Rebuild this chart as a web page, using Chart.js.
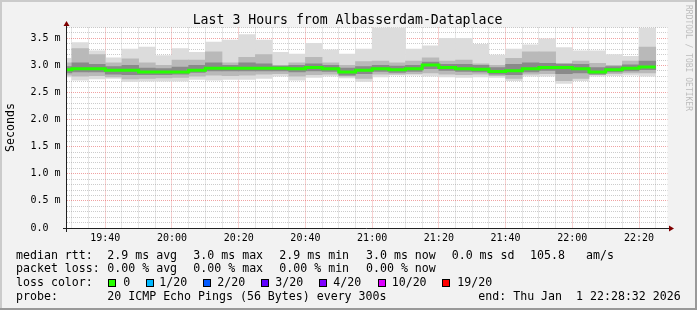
<!DOCTYPE html>
<html>
<head>
<meta charset="utf-8">
<title>Last 3 Hours from Albasserdam-Dataplace</title>
<script src="https://cdn.jsdelivr.net/npm/chart.js@4/dist/chart.umd.min.js"></script>
<style>
  html, body { margin: 0; padding: 0; background: #f2f2f2; }
  canvas { display: block; }
</style>
</head>
<body>
<canvas id="mainGraph" width="697" height="310"></canvas>
<script>
// start of every 5 minute step (300s)
var slotTimes = ['19:25','19:30','19:35','19:40','19:45','19:50','19:55',
  '20:00','20:05','20:10','20:15','20:20','20:25','20:30','20:35','20:40','20:45','20:50','20:55',
  '21:00','21:05','21:10','21:15','21:20','21:25','21:30','21:35','21:40','21:45','21:50','21:55',
  '22:00','22:05','22:10','22:15','22:20'];

// values in ms
var medianRtt   = [2.92,2.94,2.94,2.91,2.91,2.88,2.88,2.88,2.91,2.95,2.95,2.95,2.95,2.95,2.94,2.96,2.94,2.88,
                   2.91,2.94,2.92,2.94,3.01,2.96,2.94,2.93,2.89,2.90,2.94,2.96,2.96,2.94,2.88,2.92,2.95,2.97];
var smokeMax    = [3.13,3.42,3.27,3.14,3.30,3.34,3.18,3.31,3.24,3.43,3.47,3.57,3.47,3.24,3.21,3.41,3.29,3.21,
                   3.30,3.70,3.70,3.30,3.36,3.50,3.50,3.39,3.19,3.30,3.38,3.49,3.33,3.27,3.27,3.20,3.17,3.69];
var smokeHi     = [3.05,3.31,3.20,3.05,3.12,3.05,3.00,3.10,3.10,3.25,3.05,3.15,3.20,3.00,3.05,3.15,3.05,3.00,
                   3.07,3.08,3.05,3.08,3.14,3.08,3.10,3.03,3.00,3.13,3.25,3.25,3.00,3.08,3.04,3.00,3.08,3.34];
var smokeDarkHi = [2.98,3.05,3.02,2.98,3.00,2.95,2.94,2.97,3.00,3.05,3.00,3.05,3.03,2.99,3.00,3.03,3.00,2.95,
                   2.98,3.00,2.99,3.00,3.06,3.02,3.02,3.00,2.96,3.02,3.05,3.04,3.03,3.02,2.96,2.98,3.01,3.08];
var smokeDarkLo = [2.86,2.88,2.88,2.84,2.83,2.83,2.83,2.84,2.87,2.90,2.90,2.90,2.90,2.90,2.88,2.90,2.89,2.82,
                   2.85,2.89,2.87,2.89,2.94,2.91,2.89,2.88,2.84,2.83,2.88,2.91,2.85,2.86,2.84,2.88,2.90,2.92];
var smokeLo     = [2.82,2.80,2.81,2.79,2.75,2.76,2.77,2.78,2.80,2.82,2.81,2.82,2.84,2.85,2.80,2.83,2.84,2.80,
                   2.76,2.84,2.84,2.85,2.86,2.84,2.83,2.84,2.81,2.76,2.84,2.85,2.72,2.76,2.83,2.85,2.86,2.86];
var smokeMin    = [2.79,2.73,2.75,2.76,2.70,2.71,2.71,2.71,2.74,2.73,2.74,2.74,2.76,2.80,2.73,2.78,2.80,2.77,
                   2.70,2.79,2.82,2.82,2.80,2.79,2.78,2.79,2.78,2.72,2.80,2.80,2.67,2.72,2.80,2.81,2.82,2.80];

var rangeStart = '19:28:32';
var rangeEnd = '22:28:32';
var stepMinutes = 5;

var legendRows = [
  [[16,'median rtt:'],[107.3,'2.9 ms avg'],[193.3,'3.0 ms max'],[279.3,'2.9 ms min'],[366,'3.0 ms now'],[451.7,'0.0 ms sd'],[530,'105.8'],[586,'am/s']],
  [[16,'packet loss:'],[107.3,'0.00 % avg'],[193.3,'0.00 % max'],[279.3,'0.00 % min'],[366,'0.00 % now']],
  [[16,'loss color:']],
  [[16,'probe:'],[107.3,'20 ICMP Echo Pings (56 Bytes) every 300s'],[478.3,'end: Thu Jan  1 22:28:32 2026']]
];
var lossLabels = ['0','1/20','2/20','3/20','4/20','10/20','19/20'];
var lossColors = ['#26ff00','#00b8ff','#0059ff','#5e00ff','#7e00ff','#dd00ff','#ff0000'];

// minutes since 19:00
function toMin(t) {
  var p = t.split(':');
  var m = (parseInt(p[0]) - 19) * 60 + parseInt(p[1]);
  if (p.length > 2) m += parseInt(p[2]) / 60;
  return m;
}
function fmt(v) {
  var h = 19 + Math.floor(v / 60);
  var m = v % 60;
  return h + ':' + (m < 10 ? '0' : '') + m;
}

function band(lo, hi) {
  var out = [];
  for (var i = 0; i < slotTimes.length; i++) {
    out.push({x: toMin(slotTimes[i]) + stepMinutes / 2, y: [lo[i], hi[i]]});
  }
  return out;
}
var medianPts = [];
for (var i = 0; i < slotTimes.length; i++) {
  var s = toMin(slotTimes[i]);
  medianPts.push({x: s, y: medianRtt[i]});
  medianPts.push({x: s + stepMinutes, y: medianRtt[i]});
}

var MONO = '"DejaVu Sans Mono", "Liberation Mono", monospace';

var rrdPlugin = {
  id: 'rrd',
  beforeDraw: function (chart) {
    var c = chart.ctx, a = chart.chartArea;
    c.save();
    c.fillStyle = '#f2f2f2';
    c.fillRect(0, 0, chart.width, chart.height);
    c.fillStyle = '#cbcbcb';
    c.fillRect(0, 0, chart.width, 2);
    c.fillRect(0, 0, 2, chart.height);
    c.fillStyle = '#999999';
    c.fillRect(0, chart.height - 2, chart.width, 2);
    c.fillRect(chart.width - 2, 0, 2, chart.height);
    c.fillStyle = '#ffffff';
    c.fillRect(a.left, a.top, a.right - a.left, a.bottom - a.top);
    c.restore();
  },
  afterDatasetsDraw: function (chart) {
    var c = chart.ctx, a = chart.chartArea;
    c.save();
    c.strokeStyle = '#202020';
    c.lineWidth = 1;
    c.beginPath();
    c.moveTo(63, a.bottom + 0.5);
    c.lineTo(670, a.bottom + 0.5);
    c.moveTo(a.left - 0.5, a.bottom + 4);
    c.lineTo(a.left - 0.5, 24);
    c.stroke();
    c.fillStyle = '#7f0000';
    c.beginPath();
    c.moveTo(669, a.bottom - 2.5);
    c.lineTo(674, a.bottom + 0.5);
    c.lineTo(669, a.bottom + 3.5);
    c.closePath();
    c.fill();
    c.beginPath();
    c.moveTo(a.left - 3.5, 26);
    c.lineTo(a.left - 0.5, 21);
    c.lineTo(a.left + 2.5, 26);
    c.closePath();
    c.fill();
    c.restore();
  },
  afterDraw: function (chart) {
    var c = chart.ctx;
    c.save();
    c.fillStyle = '#000';
    c.textBaseline = 'alphabetic';
    c.textAlign = 'center';
    c.font = '13.2px ' + MONO;
    c.fillText('Last 3 Hours from Albasserdam-Dataplace', 347.5, 24);

    c.save();
    c.font = '11.6px ' + MONO;
    c.translate(11, 127.5);
    c.rotate(-Math.PI / 2);
    c.textBaseline = 'middle';
    c.fillText('Seconds', 0, 0);
    c.restore();

    c.save();
    c.font = '8px ' + MONO;
    c.fillStyle = '#bdbdbd';
    c.translate(688.5, 5);
    c.rotate(Math.PI / 2);
    c.textAlign = 'left';
    c.textBaseline = 'middle';
    c.fillText('RRDTOOL / TOBI OETIKER', 0, 0);
    c.restore();

    c.font = '11.6px ' + MONO;
    c.textAlign = 'left';
    var baselines = [258.6, 272.4, 286.3, 300.1];
    legendRows.forEach(function (row, r) {
      row.forEach(function (it) {
        c.fillText(it[1], it[0], baselines[r]);
      });
    });
    var boxX = [108.3, 145.7, 203, 261, 319.3, 377.7, 441.7];
    var textX = [123.3, 159.3, 217.3, 275.3, 333.3, 391.7, 457.3];
    for (var k = 0; k < lossLabels.length; k++) {
      c.fillStyle = lossColors[k];
      c.fillRect(Math.round(boxX[k]), 279, 8, 8);
      c.strokeStyle = '#000';
      c.lineWidth = 1;
      c.strokeRect(Math.round(boxX[k]) + 0.5, 279.5, 7, 7);
      c.fillStyle = '#000';
      c.fillText(lossLabels[k], textX[k], baselines[2]);
    }
    c.restore();
  }
};

var ctx = document.getElementById('mainGraph').getContext('2d');
var chart = new Chart(ctx, {
  type: 'bar',
  data: {
    datasets: [
      { label: 'smoke', data: band(smokeMin, smokeMax), backgroundColor: '#dcdcdc', order: 4 },
      { label: 'smoke2', data: band(smokeLo, smokeHi), backgroundColor: '#b9b9b9', order: 3 },
      { label: 'smoke3', data: band(smokeDarkLo, smokeDarkHi), backgroundColor: '#8a8a8a', order: 2 },
      { type: 'line', label: 'median rtt', data: medianPts, borderColor: '#26ff00', borderWidth: 3,
        pointRadius: 0, tension: 0, fill: false, borderCapStyle: 'butt', borderJoinStyle: 'miter', order: 1 }
    ]
  },
  options: {
    responsive: false,
    animation: false,
    devicePixelRatio: 1,
    layout: { padding: { left: 0, right: 29.5, top: 27.5, bottom: 62 } },
    datasets: {
      bar: { grouped: false, barPercentage: 1, categoryPercentage: 1, borderWidth: 0 }
    },
    plugins: { legend: { display: false }, tooltip: { enabled: false }, title: { display: false } },
    scales: {
      x: {
        type: 'linear',
        min: toMin(rangeStart),
        max: toMin(rangeEnd),
        offset: false,
        afterFit: function (s) { s.height = 20; },
        afterBuildTicks: function (s) {
          var t = [];
          for (var v = 30; v <= s.max; v += stepMinutes) t.push({ value: v });
          s.ticks = t;
        },
        grid: {
          offset: false,
          drawTicks: false,
          lineWidth: 1,
          color: function (ctx) {
            if (!ctx.tick) return 'transparent';
            return ctx.tick.value % 20 === 0 ? 'rgba(222,48,48,0.45)' : 'rgba(143,143,143,0.45)';
          }
        },
        border: { display: false, dash: [1, 1] },
        ticks: {
          autoSkip: false,
          maxRotation: 0,
          padding: 4.5,
          color: '#000',
          font: { family: MONO, size: 10 },
          callback: function (v) { return v % 20 === 0 ? fmt(v) : ''; }
        }
      },
      y: {
        min: 0,
        max: 3.7,
        afterFit: function (s) { s.width = 67; },
        afterBuildTicks: function (s) {
          var t = [];
          for (var k = 0; k <= 37; k++) t.push({ value: k / 10 });
          s.ticks = t;
        },
        grid: {
          drawTicks: false,
          lineWidth: 1,
          color: function (ctx) {
            if (!ctx.tick) return 'transparent';
            var k = Math.round(ctx.tick.value * 10);
            if (k === 0) return 'transparent';
            return k % 5 === 0 ? 'rgba(222,48,48,0.45)' : 'rgba(143,143,143,0.45)';
          }
        },
        border: { display: false, dash: [1, 1] },
        ticks: {
          autoSkip: false,
          padding: 6.5,
          color: '#000',
          font: { family: MONO, size: 10 },
          callback: function (v) {
            var k = Math.round(v * 10);
            if (k % 5 !== 0) return '';
            return k === 0 ? '0.0  ' : (k / 10).toFixed(1) + ' m';
          }
        }
      }
    }
  },
  plugins: [rrdPlugin]
});
</script>
</body>
</html>
